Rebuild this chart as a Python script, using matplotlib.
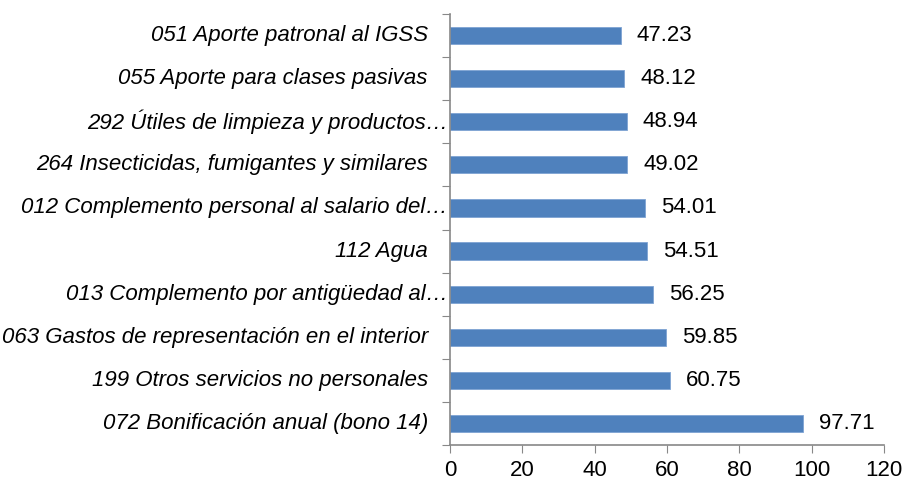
import matplotlib
matplotlib.use("Agg")
import matplotlib.pyplot as plt

plt.rcParams['font.family'] = ['Liberation Sans', 'DejaVu Sans']

# top to bottom as in the reference
labels = ['051 Aporte patronal al IGSS',
          '055 Aporte para clases pasivas',
          '292 Útiles de limpieza y productos…',
          '264 Insecticidas, fumigantes y similares',
          '012 Complemento personal al salario del…',
          '112 Agua',
          '013 Complemento por antigüedad al…',
          '063 Gastos de representación en el interior',
          '199 Otros servicios no personales',
          '072 Bonificación anual (bono 14)']
values = [47.23, 48.12, 48.94, 49.02, 54.01, 54.51, 56.25, 59.85, 60.75, 97.71]
truncated = [False, False, True, False, True, False, True, False, False, False]

fig = plt.figure(figsize=(9.02, 4.88), dpi=100)
ax = fig.add_axes([0.4989, 0.0881, 0.4812, 0.8832])

n = len(values)
ypos = list(range(n - 1, -1, -1))
ax.barh(ypos, values, height=0.4, color='#4F81BD', edgecolor='#7EA3D3', linewidth=0.6)

fs = 16
for y, v in zip(ypos, values):
    ax.annotate(f'{v:.2f}', (v, y), xytext=(11.5, 0), textcoords='offset points',
                ha='left', va='center', fontsize=fs)

for y, lab, tr in zip(ypos, labels, truncated):
    off = -1.5 if tr else -16
    ax.annotate(lab, (0, y), xycoords=('axes fraction', 'data'), xytext=(off, 0),
                textcoords='offset points', ha='right', va='center',
                fontsize=fs, style='italic')

ax.set_xlim(0, 120)
ax.set_ylim(-0.5, n - 0.5)
ax.set_xticks(range(0, 121, 20))
ax.set_yticks([i - 0.5 for i in range(n + 1)])
ax.set_yticklabels([])
ax.tick_params(axis='x', direction='out', length=6, color='#888888', labelsize=fs, pad=5)
ax.tick_params(axis='y', direction='out', length=6, color='#888888')

for s in ['top', 'right']:
    ax.spines[s].set_visible(False)
for s in ['left', 'bottom']:
    ax.spines[s].set_color('#888888')
    ax.spines[s].set_linewidth(1.2)

fig.savefig('out.png', dpi=100)
